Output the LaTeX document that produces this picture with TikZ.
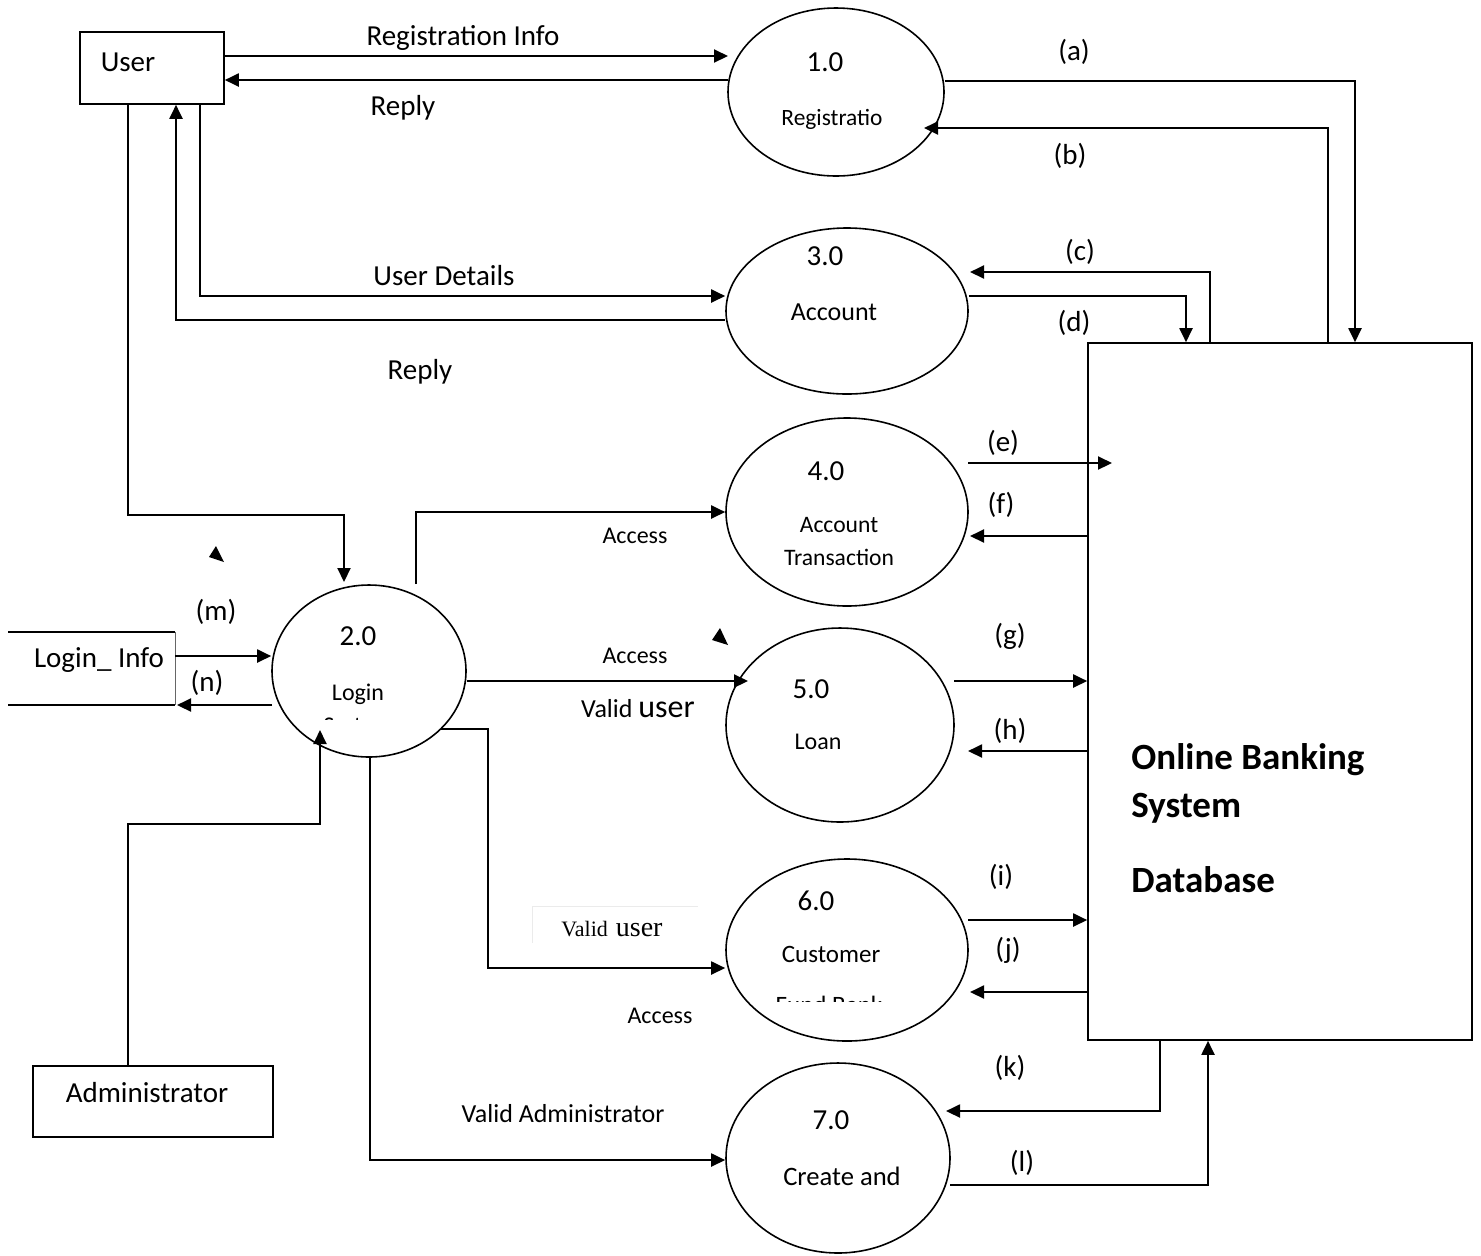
\documentclass[tikz,border=0pt]{standalone}
\usepackage{fontspec}
\setmainfont{Carlito}
\newfontfamily\serifa{Liberation Serif}
\usetikzlibrary{arrows.meta,shapes.geometric}
\begin{document}
\begin{tikzpicture}[x=0.5pt,y=-0.5pt,
  flow/.style={line width=1pt,-{Triangle[length=7pt,width=6.5pt]}},
  plain/.style={line width=1pt},
  proc/.style={draw,ellipse,line width=0.8pt,inner sep=0pt},
  box/.style={draw,line width=0.8pt,inner sep=0pt},
  big/.style={inner sep=0pt,font=\fontsize{14.5}{17}\selectfont},
  mid/.style={inner sep=0pt,font=\fontsize{13}{15}\selectfont},
  sml/.style={inner sep=0pt,font=\fontsize{12}{14}\selectfont},
  dbt/.style={inner sep=0pt,anchor=west,font=\bfseries\fontsize{18.5}{22}\selectfont}]
\useasboundingbox (0,0) rectangle (1481,1255);

% external entities and store
\node[box,minimum width=72pt,minimum height=36pt] (user) at (152,68) {};
\node[big] (tuser) at (128,62) {User};
\node[box,minimum width=120pt,minimum height=35.5pt] (admin) at (153,1101.5) {};
\node[big] (tadmin) at (147,1093) {Administrator};
\node[box,minimum width=192pt,minimum height=348.5pt] (db) at (1280,691.5) {};
\node[dbt] (db1) at (1131,760) {Online Banking};
\node[dbt] (db2) at (1131,808) {System};
\node[dbt] (db3) at (1131,880) {Database};

\coordinate (lit) at (8,632);
\coordinate (lib) at (8,705);
\coordinate (lir) at (175,632);
\coordinate (lirb) at (175,705);
\draw[plain] (lit) -- (lir);
\draw[plain] (lib) -- (lirb);
\draw[line width=0.5pt,black!60] (lir) -- (lirb);
\node[big] (tli) at (99,660) {Login\_ Info};

% processes
\node[proc,minimum width=108pt,minimum height=84pt] (p1) at (836,92) {};
\node[proc,minimum width=121pt,minimum height=83pt] (p3) at (847,311) {};
\node[proc,minimum width=121pt,minimum height=94pt] (p4) at (847,512) {};
\node[proc,minimum width=97pt,minimum height=86pt] (p2) at (369,671) {};
\node[proc,minimum width=114pt,minimum height=97pt] (p5) at (840,725) {};
\node[proc,minimum width=121pt,minimum height=91pt] (p6) at (847,950) {};
\node[proc,minimum width=112pt,minimum height=95pt] (p7) at (838,1158) {};

\node[big] (n1) at (825,62) {1.0};
\node[inner sep=0pt,font=\fontsize{11.7}{14}\selectfont] (l1) at (832,119) {Registratio};
\node[big] (n3) at (825,256) {3.0};
\node[mid] (l3) at (834,312) {Account};
\node[big] (n4) at (826,471) {4.0};
\node[inner sep=0pt,font=\fontsize{11.8}{14}\selectfont] (l4a) at (839,525) {Account};
\node[inner sep=0pt,font=\fontsize{11.8}{14}\selectfont] (l4b) at (839,557) {Transaction};
\node[big] (n2) at (358,636) {2.0};
\node[sml] (l2) at (358,694) {Login};
\begin{scope}
\clip (320,700) rectangle (400,719);
\node[sml] (l2b) at (358,728) {System};
\end{scope}
\node[big] (n5) at (811,689) {5.0};
\node[sml] (l5) at (818,742) {Loan};
\node[big] (n6) at (816,901) {6.0};
\node[inner sep=0pt,font=\fontsize{12.5}{15}\selectfont] (l6) at (831,954) {Customer};
\begin{scope}
\clip (770,990) rectangle (900,1001.5);
\node[inner sep=0pt,font=\fontsize{12.5}{15}\selectfont,anchor=north] (l6b) at (829,996) {Fund Bank};
\end{scope}
\node[big] (n7) at (831,1120) {7.0};
\node[inner sep=0pt,font=\fontsize{13.3}{15}\selectfont] (l7) at (842,1176) {Create and};

% flows user <-> 1.0
\draw[flow] (user.east |- 0,56) -- (728,56);
\draw[flow] (728,80) -- (user.east |- 0,80);
\node[big] (fl1) at (463,38) {Registration Info};
\node[big] (fl2) at (403,108) {Reply};

% 1.0 <-> db
\draw[flow] (p1.east |- 0,81) -- (1355,81) -- (db.north -| 1355,0);
\draw[flow] (db.north -| 1328,0) -- (1328,128) -- (924,128);
\node[big] (la) at (1074,52) {(a)};
\node[big] (lb) at (1070,156) {(b)};

% user <-> 3.0
\draw[flow] (user.south -| 200,0) -- (200,296) -- (p3.west |- 0,296);
\draw[flow] (p3.west |- 0,320) -- (176,320) -- (user.south -| 176,0);
\node[big] (fl3) at (444,276) {User Details};
\node[big] (fl4) at (420,372) {Reply};

% 3.0 <-> db
\draw[flow] (db.north -| 1210,0) -- (1210,272) -- (970,272);
\draw[flow] (p3.east |- 0,296) -- (1186,296) -- (db.north -| 1186,0);
\node[big] (lc) at (1080,252) {(c)};
\node[big] (ld) at (1074,323) {(d)};

% user -> login
\draw[flow] (user.south -| 128,0) -- (128,515) -- (344,515) -- (344,582);

% 4.0 <-> db
\draw[flow] (968,463) -- (1112,463);
\draw[flow] (db.west |- 0,536) -- (970,536);
\node[big] (le) at (1003,443) {(e)};
\node[big] (lf) at (1001,505) {(f)};

% login -> 4.0
\draw[flow] (416,584) -- (416,512) -- (p4.west |- 0,512);
\node[sml] (ac1) at (635,536) {Access};

% stray tips
\fill (216,546) -- (209,557) -- (224,562) -- cycle;
\fill (720,628) -- (712,640) -- (728,645) -- cycle;

% login info
\draw[flow] (lir |- 0,656) -- (p2.west |- 0,656);
\draw[flow] (272,705) -- (177,705);
\node[big] (lm) at (216,612) {(m)};
\node[big] (ln) at (207,683) {(n)};

% login -> 5.0
\draw[flow] (p2.east |- 0,681) -- (748,681);
\node[sml] (ac2) at (635,656) {Access};
\node[inner sep=0pt,anchor=base] (vu1) at (638,717) {\fontsize{13}{15}\selectfont Valid \fontsize{16}{18}\selectfont user};

% 5.0 <-> db
\draw[flow] (954,681) -- (db.west |- 0,681);
\draw[flow] (db.west |- 0,751) -- (968,751);
\node[big] (lg) at (1010,636) {(g)};
\node[big] (lh) at (1010,731) {(h)};

% login -> 6.0
\draw[flow] (441,729) -- (488,729) -- (488,968) -- (p6.west |- 0,968);
\draw[line width=0.4pt,black!8] (532,943) -- (532,906) -- (698,906);
\node[inner sep=0pt,anchor=base] (vu2) at (612,936) {\serifa\fontsize{11}{13}\selectfont Valid\hspace{4pt}\fontsize{14}{16}\selectfont user};
\node[sml] (ac3) at (660,1016) {Access};

% 6.0 <-> db
\draw[flow] (968,920) -- (db.west |- 0,920);
\draw[flow] (db.west |- 0,992) -- (970,992);
\node[big] (li) at (1001,877) {(i)};
\node[big] (lj) at (1008,950) {(j)};

% login -> 7.0
\draw[flow] (370,757) -- (370,1160) -- (p7.west |- 0,1160);
\node[mid] (va) at (563,1114) {Valid Administrator};

% 7.0 <-> db
\draw[flow] (db.south -| 1160,0) -- (1160,1111) -- (946,1111);
\draw[flow] (950,1185) -- (1208,1185) -- (db.south -| 1208,0);
\node[big] (lk) at (1010,1068) {(k)};
\node[big] (ll) at (1022,1163) {(l)};

% admin -> login
\draw[flow] (admin.north -| 128,0) -- (128,824) -- (320,824) -- (320,730);
\end{tikzpicture}
\end{document}
